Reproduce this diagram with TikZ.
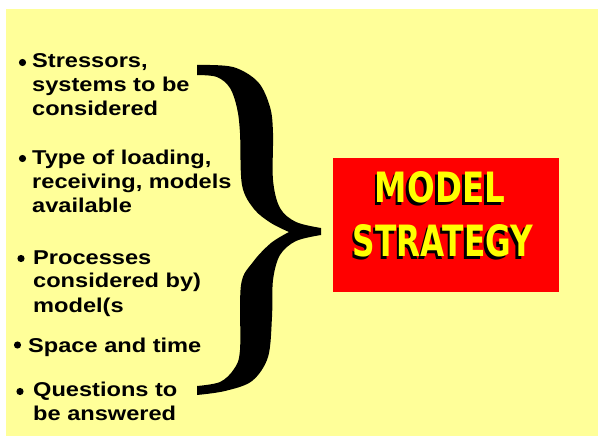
\documentclass[tikz,border=0pt]{standalone}
\usepackage{fontspec}
\usepackage{graphicx}
\setmainfont{Liberation Sans}
\newfontfamily\itemfont{Liberation Sans}[FakeStretch=1.18]
\newfontfamily\titlefont{DejaVu Sans}
\definecolor{bgyellow}{RGB}{255,255,153}
\definecolor{titleyellow}{RGB}{255,255,0}
\definecolor{boxred}{RGB}{255,0,0}
\begin{document}
\begin{tikzpicture}[x=1pt,y=-1pt,
  itemtext/.style={anchor=base west, align=left, inner sep=0pt,
    font=\itemfont\bfseries\fontsize{20}{24}\selectfont},
  bulletdot/.style={fill=black},
  titletext/.style={inner sep=0pt, text=titleyellow},
  titleshadow/.style={inner sep=0pt, text=black},
  bracefill/.style={fill=black}]
\useasboundingbox (0,0) rectangle (598,436);
\fill[white] (0,0) rectangle (598,436);
\fill[bgyellow] (6,9) rectangle (598,436);

% items (anchor = baseline of the last line)
\node[itemtext] (i1) at (32,116) {Stressors,\\systems to be\\considered};
\node[itemtext] (i2) at (32,212) {Type of loading,\\receiving, models\\available};
\node[itemtext] (i3) at (33,312) {Processes\\considered by)\\model(s};
\node[itemtext] (i4) at (28,352) {Space and time};
\node[itemtext] (i5) at (33,420) {Questions to\\be answered};

% bullets
\fill[bulletdot] (22.5,62.5) circle[radius=3.6pt];
\fill[bulletdot] (22.5,158.5) circle[radius=3.6pt];
\fill[bulletdot] (21,258.5) circle[radius=3.6pt];
\fill[bulletdot] (17.5,345) circle[radius=3.6pt];
\fill[bulletdot] (20,391.5) circle[radius=3.6pt];

% brace
\fill[bracefill] plot[smooth, tension=0.55] coordinates {(197,65) (233,67) (258,82) (270,107) (273,133) (273,180) (280,208) (296,222) (321,228)}
 -- plot[smooth, tension=0.55] coordinates {(321,235) (296,241) (280,255) (273,280) (272,317) (268,357) (252,381) (225,391) (197,395)}
 -- plot[smooth, tension=0.55] coordinates {(197,386) (220,382) (234,369) (240,350) (241,285) (253,262) (271,243) (289,232)}
 -- plot[smooth, tension=0.55] coordinates {(289,232) (271,223) (254,209) (242,185) (240,133) (237,108) (230,88) (217,77) (197,75)}
 -- cycle;

% red box
\node[fill=boxred, minimum width=226pt, minimum height=134pt, inner sep=0pt] (box) at (446,225) {};
\node[titleshadow] (m0) at (437.5,190) {\resizebox{130pt}{31pt}{\titlefont\bfseries MODEL}};
\node[titletext] (m1) at (440,187.5) {\resizebox{130pt}{31pt}{\titlefont\bfseries MODEL}};
\node[titleshadow] (s0) at (440.5,243.5) {\resizebox{180pt}{32pt}{\titlefont\bfseries STRATEGY}};
\node[titletext] (s1) at (443,241) {\resizebox{180pt}{32pt}{\titlefont\bfseries STRATEGY}};
\end{tikzpicture}
\end{document}
